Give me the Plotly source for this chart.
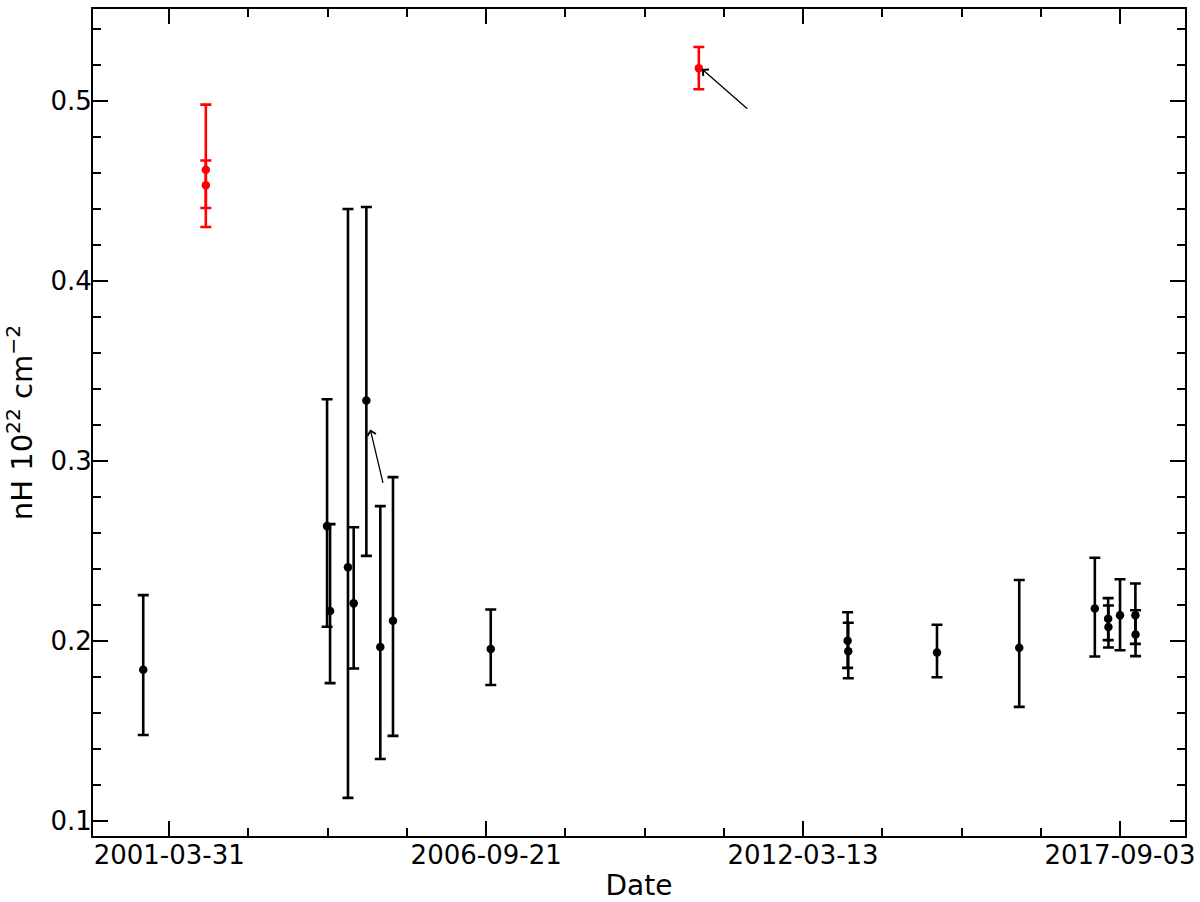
import pandas as pd
import plotly.graph_objects as go

# ---- data (x in modified-Julian-style day numbers, converted to dates) ----
black_mjd = [51836, 52996, 53015, 53128, 53164, 53244, 53332, 53412, 54029,
             56281, 56285, 56845, 57364, 57841, 57925, 57927, 58000, 58097, 58098]
black_nh = [0.1841, 0.2639, 0.2167, 0.2411, 0.2210, 0.3337, 0.1968, 0.2113, 0.1957,
            0.2002, 0.1944, 0.1937, 0.1963, 0.2182, 0.2124, 0.2079, 0.2144, 0.2144, 0.2037]
black_err_up = [0.0415, 0.0705, 0.0483, 0.1989, 0.0423, 0.1074, 0.0782, 0.0798, 0.0219,
                0.0159, 0.0158, 0.0154, 0.0377, 0.0281, 0.0115, 0.0119, 0.0200, 0.0176, 0.0135]
black_err_down = [0.0362, 0.0559, 0.0400, 0.1281, 0.0362, 0.0863, 0.0622, 0.0639, 0.0200,
                  0.0150, 0.0150, 0.0137, 0.0328, 0.0267, 0.0118, 0.0114, 0.0194, 0.0159, 0.0120]

red_mjd = [52231, 52231, 55342]
red_nh = [0.4618, 0.4532, 0.5182]
red_err_up = [0.0362, 0.0138, 0.0118]
red_err_down = [0.0318, 0.0126, 0.0117]

# arrows: head position (day number, nH) and tail offset in pixels
arrow_mjd = [55361, 53269]
arrow_nh = [0.5178, 0.3176]
arrow_dx = [47, 13]
arrow_dy = [41, 55]

tick_mjd = [52000, 54000, 56000, 58000]   # labelled 2001-03-31 ... 2017-09-03
x_range_mjd = [51519, 58410]
y_range = [0.0918, 0.5511]

ORIGIN = pd.Timestamp("1858-11-16")


def to_date(m):
    return pd.to_datetime(m, unit="D", origin=ORIGIN)


fig = go.Figure()

fig.add_trace(go.Scatter(
    x=to_date(black_mjd), y=black_nh, mode="markers",
    marker=dict(color="black", size=8.5),
    error_y=dict(type="data", symmetric=False, array=black_err_up, arrayminus=black_err_down,
                 color="black", thickness=2.6, width=5.5),
    showlegend=False,
))
fig.add_trace(go.Scatter(
    x=to_date(red_mjd), y=red_nh, mode="markers",
    marker=dict(color="#ff0000", size=8.5),
    error_y=dict(type="data", symmetric=False, array=red_err_up, arrayminus=red_err_down,
                 color="#ff0000", thickness=2.6, width=5.5),
    showlegend=False,
))

for m, v, dx, dy in zip(arrow_mjd, arrow_nh, arrow_dx, arrow_dy):
    fig.add_annotation(x=to_date(m), y=v, ax=dx, ay=dy, text="", showarrow=True,
                       arrowhead=4, arrowsize=1.3, arrowwidth=1.3, arrowcolor="black")

tick_dates = [to_date(m) for m in tick_mjd]
font = "DejaVu Sans"

fig.update_layout(
    width=1200, height=902,
    margin=dict(l=93, r=15, t=9, b=66, autoexpand=False),
    paper_bgcolor="white", plot_bgcolor="white",
    font=dict(family=font, color="black"),
)
fig.update_xaxes(
    type="date", range=[to_date(x_range_mjd[0]), to_date(x_range_mjd[1])],
    tickvals=tick_dates, tickformat="%Y-%m-%d", automargin=False,
    ticks="inside", ticklen=15, tickwidth=2, tickcolor="black",
    tickfont=dict(size=26, family=font, color="black"), ticklabelstandoff=-5,
    showline=True, linecolor="black", linewidth=2, mirror="allticks",
    showgrid=False, zeroline=False,
    minor=dict(tick0=to_date(tick_mjd[0]), dtick=500 * 86400000, ticks="inside",
               ticklen=8, tickwidth=1.5, tickcolor="black", showgrid=False),
    title=dict(text="Date", font=dict(size=28, family=font, color="black"), standoff=6),
)
fig.update_yaxes(
    range=y_range, tickvals=[0.1, 0.2, 0.3, 0.4, 0.5], automargin=False,
    ticks="inside", ticklen=15, tickwidth=2, tickcolor="black",
    tickfont=dict(size=26, family=font, color="black"), ticklabelstandoff=-6,
    showline=True, linecolor="black", linewidth=2, mirror="allticks",
    showgrid=False, zeroline=False,
    minor=dict(tick0=0.1, dtick=0.02, ticks="inside", ticklen=8, tickwidth=1.5,
               tickcolor="black", showgrid=False),
    title=dict(text="nH 10<sup>22</sup> cm<sup>−2</sup>",
               font=dict(size=29, family=font, color="black"), standoff=9),
)

fig.write_html(
    "out.html",
    config={"displayModeBar": False},
    post_script="document.body.style.margin='0';document.body.style.overflow='hidden';",
)
